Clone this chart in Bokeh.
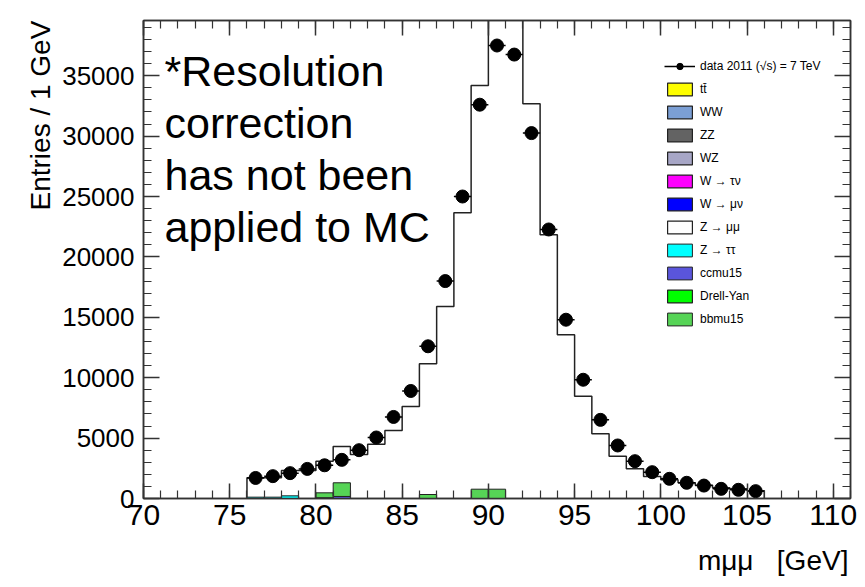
import math
from bokeh.plotting import figure
from bokeh.models import (Range1d, LinearAxis, SingleIntervalTicker, Label, Legend, LegendItem,
                          CustomJSTickFormatter)
from bokeh.embed import file_html
from bokeh.resources import INLINE

# ---------------- data ----------------
bin_low = list(range(76, 106))  # 1 GeV bins, 76..106
data_counts = [1700, 1850, 2100, 2450, 2750, 3200, 4000, 5050, 6750, 8900,
               12600, 18000, 25000, 32600, 37500, 36750, 30250, 22270, 14800, 9830,
               6510, 4390, 3090, 2180, 1630, 1300, 1070, 800, 720, 610]
zmumu_stack = [1710, 1710, 2320, 2320, 3090, 4300, 3640, 4500, 5630, 7616,
               11150, 15894, 23650, 34190, 44000, 42000, 32670, 21830, 13550, 8470,
               5355, 3505, 2455, 1820, 1545, 1300, 1100, 900, 800, 650]
zeros = [0] * 30
ztautau = [110, 110, 220, 0, 0, 0, 0, 0, 0, 0, 0, 0, 0, 0, 0, 0, 0, 0, 0, 0,
           0, 0, 0, 0, 0, 0, 0, 0, 0, 0]
ccmu15 = [0, 0, 0, 0, 60, 170, 0, 0, 0, 0, 0, 0, 0, 0, 0, 0, 0, 0, 0, 0,
          0, 0, 0, 0, 0, 0, 0, 0, 0, 0]
bbmu15 = [0, 0, 0, 0, 410, 1130, 0, 0, 0, 0, 330, 0, 0, 770, 770, 0, 0, 0, 0, 0,
          0, 0, 0, 0, 0, 0, 0, 0, 0, 0]

legend_names = ["data 2011 (\u221as) = 7 TeV", "t\u0074\u0304", "WW", "ZZ", "WZ",
                "W \u2192 \u03c4\u03bd", "W \u2192 \u03bc\u03bd", "Z \u2192 \u03bc\u03bc",
                "Z \u2192 \u03c4\u03c4", "ccmu15", "Drell-Yan", "bbmu15"]
legend_colors = [None, "#ffff00", "#7b9fd5", "#636363", "#a7a6c6", "#ff00ff", "#0000ff",
                 "#ffffff", "#00ffff", "#5a55dc", "#00ff00", "#56d456"]

note_lines = ["*Resolution", "correction", "has not been", "applied to MC"]
NBSP = "\u00a0"
x_title = "m\u03bc\u03bc" + NBSP * 3 + "[GeV]"
y_title = "Entries / 1 GeV"

FONT = "Liberation Sans"

p = figure(width=857, height=579, x_range=Range1d(70, 111), y_range=Range1d(0, 39570),
           output_backend="svg", toolbar_location=None,
           min_border_left=143, min_border_right=7, min_border_top=20, min_border_bottom=81)
p.xgrid.visible = False
p.ygrid.visible = False
p.outline_line_color = "#333333"
p.outline_line_width = 1.5
p.background_fill_color = "white"
p.border_fill_color = "white"

xa = p.xaxis[0]   # bottom axis
ya = p.yaxis[0]   # left axis

def style_axis(ax, ticker, maj, mino, show_labels, fs):
    ax.ticker = ticker
    ax.axis_line_color = "#333333"
    ax.axis_line_width = 1.5
    ax.major_tick_line_color = "#333333"
    ax.minor_tick_line_color = "#333333"
    ax.major_tick_line_width = 1.5
    ax.minor_tick_line_width = 1.2
    ax.major_tick_in = maj
    ax.major_tick_out = 0
    ax.minor_tick_in = mino
    ax.minor_tick_out = 0
    if show_labels:
        ax.major_label_text_font = FONT
        ax.major_label_text_font_size = fs
        ax.major_label_text_color = "black"
    else:
        ax.formatter = CustomJSTickFormatter(code="return ''")
        ax.major_label_standoff = 0

style_axis(xa, SingleIntervalTicker(interval=5, num_minor_ticks=5), 15, 8, True, "30px")
xa.major_label_standoff = 6
style_axis(ya, SingleIntervalTicker(interval=5000, num_minor_ticks=5), 16, 8, True, "26px")
ya.major_label_standoff = 9

top_ax = LinearAxis()
style_axis(top_ax, SingleIntervalTicker(interval=5, num_minor_ticks=5), 15, 8, False, None)
p.add_layout(top_ax, "above")
right_ax = LinearAxis()
style_axis(right_ax, SingleIntervalTicker(interval=5000, num_minor_ticks=5), 16, 8, False, None)
p.add_layout(right_ax, "right")

# axis titles: centred labels, shifted to the right/top end with leading no-break spaces
xa.axis_label = NBSP * 71 + x_title
ya.axis_label = NBSP * 37 + y_title
for ax in (xa, ya):
    ax.axis_label_text_font = FONT
    ax.axis_label_text_font_size = "28px"
    ax.axis_label_text_font_style = "normal"
    ax.axis_label_text_color = "black"
xa.axis_label_standoff = 17
ya.axis_label_standoff = 3

# ---------------- MC outline (Z -> mumu stack top) ----------------
sx, sy = [bin_low[0]], [0]
for lo, v in zip(bin_low, zmumu_stack):
    sx += [lo, lo + 1]
    sy += [v, v]
sx.append(bin_low[-1] + 1)
sy.append(0)
p.line(sx, sy, line_color="#222222", line_width=1.5)

# ---------------- stacked components ----------------
rights = [b + 1 for b in bin_low]
comp_renderers = {}
# components with no visible contribution: zero-height bars (give legend swatches)
for name, col in zip(legend_names[1:], legend_colors[1:]):
    if name in ("Z \u2192 \u03c4\u03c4", "ccmu15", "bbmu15"):
        continue
    comp_renderers[name] = p.quad(left=bin_low, right=rights, bottom=zeros, top=zeros,
                                  fill_color=col, line_color="#222222", line_width=1.2)
base = [0] * len(bin_low)
for name, vals, col in [("Z \u2192 \u03c4\u03c4", ztautau, "#00ffff"),
                        ("ccmu15", ccmu15, "#5a55dc"),
                        ("bbmu15", bbmu15, "#56d456")]:
    idx = [i for i, v in enumerate(vals) if v > 0]
    r = p.quad(left=[bin_low[i] for i in idx], right=[rights[i] for i in idx],
               bottom=[base[i] for i in idx], top=[base[i] + vals[i] for i in idx],
               fill_color=col, line_color="#222222", line_width=1)
    comp_renderers[name] = r
    base = [b + v for b, v in zip(base, vals)]

# ---------------- data points ----------------
centers = [b + 0.5 for b in bin_low]
seg = p.segment(x0=[c - 0.5 for c in centers], x1=[c + 0.5 for c in centers],
                y0=data_counts, y1=data_counts, line_color="black", line_width=1.5)
pts = p.scatter(x=centers, y=data_counts, size=13, marker="circle",
                fill_color="black", line_color="black")

# ---------------- legend ----------------
items = [LegendItem(label=legend_names[0], renderers=[seg, pts])]
for name in legend_names[1:]:
    items.append(LegendItem(label=name, renderers=[comp_renderers[name]]))
legend = Legend(items=items, location=(521, 171))
legend.border_line_color = None
legend.background_fill_alpha = 0
legend.padding = 0
legend.margin = 0
legend.spacing = 7
legend.glyph_width = 31
legend.glyph_height = 16
legend.label_height = 16
legend.label_standoff = 5
legend.label_text_font = FONT
legend.label_text_font_size = "12px"
legend.label_text_color = "black"
p.add_layout(legend)

# ---------------- note text ----------------
for i, line in enumerate(note_lines):
    p.add_layout(Label(x=71.22, y=35350 - i * 4300, text=line, text_font=FONT,
                       text_font_size="43px", text_baseline="alphabetic",
                       text_color="black"))

open("out.html", "w").write(file_html(p, INLINE))
